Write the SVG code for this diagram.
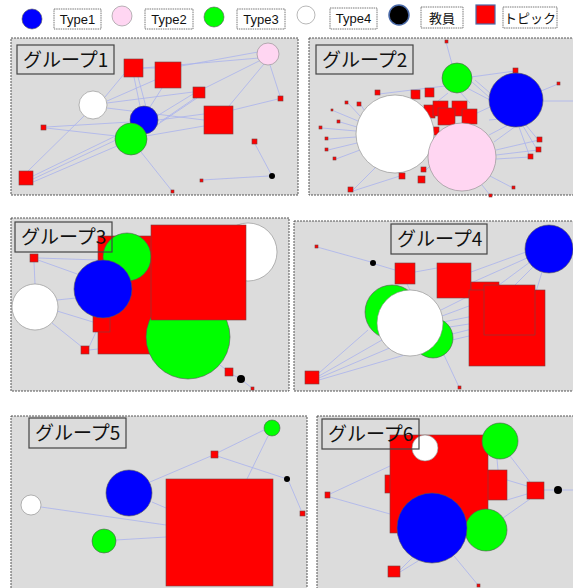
<svg xmlns="http://www.w3.org/2000/svg" width="573" height="588" viewBox="0 0 573 588">
<style>
.bg{fill:#ffffff}
.panel{fill:#dcdcdc;stroke:#555;stroke-width:1;stroke-dasharray:2,1}
.lab{fill:none;stroke:#444;stroke-width:1.2}
.labt{font-family:"Noto Sans CJK JP","Noto Sans",sans-serif;font-size:19px;fill:#111}
.lbox{fill:#fff;stroke:#555;stroke-width:0.8;stroke-dasharray:1.5,0.8}
.lt{font-family:"Liberation Sans","DejaVu Sans",sans-serif;font-size:13px;fill:#111}
.ljt{font-family:"Noto Sans CJK JP",sans-serif;font-size:13px;fill:#111}
.lc{stroke:#4a6aa8;stroke-width:1.5}
.e{stroke:#aab2ee;stroke-width:0.8;fill:none}
.t1{fill:#0000ff;stroke:#555;stroke-width:0.6}
.t2{fill:#ffd6f2;stroke:#888;stroke-width:0.6}
.t3{fill:#00ff00;stroke:#555;stroke-width:0.6}
.t4{fill:#ffffff;stroke:#888;stroke-width:0.6}
.tc{fill:#000000}
.tp{fill:#ff0000;stroke:#7a4040;stroke-width:0.6}
</style>
<rect class="bg" x="0" y="0" width="573" height="588"/>

<g id="legend">
  <g id="leg-type1"><circle class="t1 lc" cx="32" cy="19" r="10"/><rect class="lbox" x="54" y="9" width="47" height="20"/><text class="lt" x="77.5" y="24" text-anchor="middle">Type1</text></g>
  <g id="leg-type2"><circle class="t2 lc" cx="122" cy="16" r="10"/><rect class="lbox" x="145" y="9" width="48" height="20"/><text class="lt" x="169" y="24" text-anchor="middle">Type2</text></g>
  <g id="leg-type3"><circle class="t3 lc" cx="214" cy="17" r="10"/><rect class="lbox" x="237" y="9" width="48" height="20"/><text class="lt" x="261" y="24" text-anchor="middle">Type3</text></g>
  <g id="leg-type4"><circle class="t4 lc" cx="306" cy="15" r="9"/><rect class="lbox" x="330" y="8" width="47" height="21"/><text class="lt" x="353.5" y="23" text-anchor="middle">Type4</text></g>
  <g id="leg-teacher"><circle class="tc lc" cx="399" cy="15" r="10"/><rect class="lbox" x="421" y="7" width="42" height="21"/><text class="ljt" x="442" y="23" text-anchor="middle">教員</text></g>
  <g id="leg-topic"><rect class="tp" x="476" y="5" width="19" height="19" style="stroke:#4a6aa8;stroke-width:1.2"/><rect class="lbox" x="503" y="7" width="54" height="21"/><text class="ljt" x="530" y="23" text-anchor="middle">トピック</text></g>
</g>

<!-- ============ Group 1 ============ -->
<g id="group1">
  <rect class="panel" x="11" y="38" width="287" height="157"/>
  <g id="g1-connectors">
    <line class="e" x1="181" y1="66" x2="258" y2="52"/>
    <line class="e" x1="143" y1="68" x2="259" y2="58"/>
    <line class="e" x1="205" y1="88" x2="261" y2="60"/>
    <line class="e" x1="229" y1="106" x2="264" y2="64"/>
    <line class="e" x1="270" y1="65" x2="280" y2="96"/>
    <line class="e" x1="143" y1="68" x2="155" y2="68"/>
    <line class="e" x1="105" y1="97" x2="124" y2="74"/>
    <line class="e" x1="107" y1="101" x2="155" y2="80"/>
    <line class="e" x1="107" y1="103" x2="193" y2="92"/>
    <line class="e" x1="107" y1="108" x2="204" y2="120"/>
    <line class="e" x1="134" y1="77" x2="140" y2="106"/>
    <line class="e" x1="138" y1="77" x2="146" y2="107"/>
    <line class="e" x1="162" y1="88" x2="150" y2="107"/>
    <line class="e" x1="193" y1="94" x2="157" y2="116"/>
    <line class="e" x1="195" y1="98" x2="160" y2="122"/>
    <line class="e" x1="197" y1="98" x2="145" y2="133"/>
    <line class="e" x1="204" y1="114" x2="158" y2="120"/>
    <line class="e" x1="204" y1="126" x2="146" y2="136"/>
    <line class="e" x1="233" y1="110" x2="278" y2="99"/>
    <line class="e" x1="46" y1="127" x2="130" y2="122"/>
    <line class="e" x1="46" y1="128" x2="116" y2="136"/>
    <line class="e" x1="28" y1="171" x2="84" y2="116"/>
    <line class="e" x1="33" y1="176" x2="132" y2="128"/>
    <line class="e" x1="33" y1="179" x2="116" y2="140"/>
    <line class="e" x1="33" y1="182" x2="117" y2="146"/>
    <line class="e" x1="141" y1="152" x2="172" y2="191"/>
    <line class="e" x1="255" y1="144" x2="271" y2="174"/>
    <line class="e" x1="202" y1="180" x2="269" y2="176"/>
  </g>
  <g id="g1-n1"><circle class="t2" cx="268" cy="54" r="11"/></g>
  <g id="g1-n2"><rect class="tp" x="124" y="59" width="19" height="18"/></g>
  <g id="g1-n3"><rect class="tp" x="155" y="62" width="26" height="26"/></g>
  <g id="g1-n4"><rect class="tp" x="193" y="87" width="12" height="11"/></g>
  <g id="g1-n5"><rect class="tp" x="278" y="96" width="5" height="5"/></g>
  <g id="g1-n6"><circle class="t4" cx="93" cy="105" r="14"/></g>
  <g id="g1-n7"><circle class="t1" cx="144" cy="120" r="14"/></g>
  <g id="g1-n8"><rect class="tp" x="204" y="106" width="29" height="28"/></g>
  <g id="g1-n9"><rect class="tp" x="41" y="125" width="5" height="5"/></g>
  <g id="g1-n10"><circle class="t3" cx="131" cy="139" r="16"/></g>
  <g id="g1-n11"><rect class="tp" x="252" y="139" width="5" height="5"/></g>
  <g id="g1-n12"><circle class="tc" cx="272" cy="176" r="3"/></g>
  <g id="g1-n13"><rect class="tp" x="200" y="179" width="3" height="3"/></g>
  <g id="g1-n14"><rect class="tp" x="171" y="190" width="3" height="3"/></g>
  <g id="g1-n15"><rect class="tp" x="19" y="171" width="14" height="14"/></g>
  <g id="g1-label"><rect class="lab" x="17" y="45" width="97" height="29"/><text class="labt" x="23" y="67">グループ1</text></g>
</g>

<!-- ============ Group 2 ============ -->
<g id="group2">
  <rect class="panel" x="309" y="38" width="270" height="157"/>
  <g id="g2-connectors">
    <line class="e" x1="446" y1="42" x2="452" y2="64"/>
    <line class="e" x1="515" y1="71" x2="471" y2="77"/>
    <line class="e" x1="558" y1="84" x2="541" y2="91"/>
    <line class="e" x1="543" y1="101" x2="573" y2="101"/>
    <line class="e" x1="379" y1="94" x2="445" y2="86"/>
    <line class="e" x1="361" y1="105" x2="364" y2="110"/>
    <line class="e" x1="348" y1="103" x2="360" y2="116"/>
    <line class="e" x1="334" y1="111" x2="358" y2="121"/>
    <line class="e" x1="340" y1="122" x2="357" y2="127"/>
    <line class="e" x1="322" y1="128" x2="356" y2="131"/>
    <line class="e" x1="328" y1="139" x2="356" y2="137"/>
    <line class="e" x1="328" y1="150" x2="357" y2="143"/>
    <line class="e" x1="336" y1="159" x2="360" y2="150"/>
    <line class="e" x1="353" y1="191" x2="403" y2="175"/>
    <line class="e" x1="353" y1="190" x2="378" y2="165"/>
    <line class="e" x1="467" y1="88" x2="490" y2="100"/>
    <line class="e" x1="472" y1="82" x2="489" y2="97"/>
    <line class="e" x1="475" y1="80" x2="490" y2="93"/>
    <line class="e" x1="460" y1="92" x2="470" y2="103"/>
    <line class="e" x1="448" y1="93" x2="438" y2="101"/>
    <line class="e" x1="477" y1="113" x2="490" y2="107"/>
    <line class="e" x1="489" y1="120" x2="500" y2="119"/>
    <line class="e" x1="489" y1="135" x2="510" y2="124"/>
    <line class="e" x1="494" y1="142" x2="516" y2="126"/>
    <line class="e" x1="539" y1="141" x2="526" y2="125"/>
    <line class="e" x1="538" y1="151" x2="523" y2="126"/>
    <line class="e" x1="530" y1="157" x2="519" y2="127"/>
    <line class="e" x1="539" y1="140" x2="496" y2="150"/>
    <line class="e" x1="538" y1="150" x2="496" y2="155"/>
    <line class="e" x1="530" y1="157" x2="496" y2="159"/>
    <line class="e" x1="513" y1="188" x2="490" y2="176"/>
    <line class="e" x1="490" y1="195" x2="482" y2="185"/>
    <line class="e" x1="424" y1="172" x2="430" y2="166"/>
  </g>
  <g id="g2-n1"><rect class="tp" x="445" y="40" width="3" height="3"/></g>
  <g id="g2-n2"><rect class="tp" x="513" y="68" width="5" height="5"/></g>
  <g id="g2-n3"><rect class="tp" x="557" y="82" width="3" height="3"/></g>
  <g id="g2-n4"><rect class="tp" x="375" y="90" width="5" height="5"/></g>
  <g id="g2-n5"><rect class="tp" x="357" y="102" width="4" height="4"/></g>
  <g id="g2-n6"><rect class="tp" x="345" y="101" width="3" height="3"/></g>
  <g id="g2-n7"><rect class="tp" x="331" y="109" width="2" height="2"/></g>
  <g id="g2-n8"><rect class="tp" x="337" y="120" width="3" height="3"/></g>
  <g id="g2-n9"><rect class="tp" x="319" y="126" width="3" height="3"/></g>
  <g id="g2-n10"><rect class="tp" x="325" y="137" width="3" height="3"/></g>
  <g id="g2-n11"><rect class="tp" x="325" y="148" width="3" height="3"/></g>
  <g id="g2-n12"><rect class="tp" x="333" y="157" width="3" height="3"/></g>
  <g id="g2-n13"><rect class="tp" x="411" y="90" width="9" height="9"/></g>
  <g id="g2-n14"><rect class="tp" x="425" y="88" width="9" height="9"/></g>
  <g id="g2-n15"><rect class="tp" x="424" y="105" width="11" height="13"/></g>
  <g id="g2-n16"><rect class="tp" x="433" y="101" width="15" height="15"/></g>
  <g id="g2-n17"><rect class="tp" x="452" y="101" width="15" height="15"/></g>
  <g id="g2-n18"><rect class="tp" x="438" y="108" width="17" height="17"/></g>
  <g id="g2-n19"><rect class="tp" x="462" y="109" width="15" height="15"/></g>
  <g id="g2-n20"><rect class="tp" x="433" y="127" width="6" height="8"/></g>
  <g id="g2-n21"><circle class="t3" cx="457" cy="78" r="15"/></g>
  <g id="g2-n22"><circle class="t1" cx="516" cy="100" r="27"/></g>
  <g id="g2-n23"><circle class="t4" cx="395" cy="134" r="39"/></g>
  <g id="g2-n24"><circle class="t2" cx="462" cy="157" r="34"/></g>
  <g id="g2-n25"><rect class="tp" x="537" y="137" width="5" height="5"/></g>
  <g id="g2-n26"><rect class="tp" x="536" y="147" width="5" height="5"/></g>
  <g id="g2-n27"><rect class="tp" x="528" y="154" width="5" height="5"/></g>
  <g id="g2-n28"><rect class="tp" x="512" y="186" width="3" height="3"/></g>
  <g id="g2-n29"><rect class="tp" x="489" y="194" width="3" height="3"/></g>
  <g id="g2-n30"><rect class="tp" x="399" y="173" width="6" height="6"/></g>
  <g id="g2-n31"><rect class="tp" x="418" y="176" width="7" height="7"/></g>
  <g id="g2-n32"><rect class="tp" x="421" y="167" width="5" height="5"/></g>
  <g id="g2-n33"><rect class="tp" x="348" y="187" width="5" height="5"/></g>
  <g id="g2-label"><rect class="lab" x="316" y="45" width="97" height="29"/><text class="labt" x="322" y="67">グループ2</text></g>
</g>

<!-- ============ Group 3 ============ -->
<g id="group3">
  <rect class="panel" x="11" y="218" width="278" height="173"/>
  <g id="g3-connectors">
    <line class="e" x1="34" y1="262" x2="35" y2="284"/>
    <line class="e" x1="38" y1="260" x2="80" y2="275"/>
    <line class="e" x1="38" y1="258" x2="98" y2="260"/>
    <line class="e" x1="57" y1="300" x2="76" y2="298"/>
    <line class="e" x1="57" y1="311" x2="93" y2="322"/>
    <line class="e" x1="52" y1="323" x2="82" y2="347"/>
    <line class="e" x1="89" y1="347" x2="96" y2="332"/>
    <line class="e" x1="89" y1="350" x2="98" y2="349"/>
    <line class="e" x1="229" y1="372" x2="220" y2="365"/>
    <line class="e" x1="233" y1="375" x2="241" y2="379"/>
    <line class="e" x1="243" y1="381" x2="252" y2="388"/>
  </g>
  <g id="g3-n1"><circle class="t4" cx="248" cy="252" r="29"/></g>
  <g id="g3-n2"><rect class="tp" x="98" y="236" width="54" height="118"/></g>
  <g id="g3-n3"><circle class="t3" cx="127" cy="257" r="24"/></g>
  <g id="g3-n4"><circle class="t3" cx="188" cy="337" r="42"/></g>
  <g id="g3-n5"><rect class="tp" x="151" y="225" width="95" height="95"/></g>
  <g id="g3-n6"><rect class="tp" x="93" y="316" width="17" height="16"/></g>
  <g id="g3-n7"><circle class="t1" cx="103" cy="289" r="29"/></g>
  <g id="g3-n8"><circle class="t4" cx="35" cy="307" r="23"/></g>
  <g id="g3-n9"><rect class="tp" x="30" y="254" width="8" height="8"/></g>
  <g id="g3-n10"><rect class="tp" x="81" y="346" width="8" height="8"/></g>
  <g id="g3-n11"><rect class="tp" x="225" y="368" width="8" height="8"/></g>
  <g id="g3-n12"><circle class="tc" cx="241" cy="379" r="4"/></g>
  <g id="g3-n13"><rect class="tp" x="251" y="387" width="3" height="3"/></g>
  <g id="g3-label"><rect class="lab" x="15" y="222" width="97" height="30"/><text class="labt" x="21" y="244">グループ3</text></g>
</g>

<!-- ============ Group 4 ============ -->
<g id="group4">
  <rect class="panel" x="294" y="221" width="285" height="170"/>
  <g id="g4-connectors">
    <line class="e" x1="317" y1="247" x2="371" y2="262"/>
    <line class="e" x1="375" y1="264" x2="395" y2="270"/>
    <line class="e" x1="415" y1="272" x2="437" y2="268"/>
    <line class="e" x1="407" y1="284" x2="410" y2="290"/>
    <line class="e" x1="471" y1="272" x2="526" y2="252"/>
    <line class="e" x1="471" y1="283" x2="527" y2="258"/>
    <line class="e" x1="499" y1="285" x2="530" y2="262"/>
    <line class="e" x1="510" y1="290" x2="534" y2="266"/>
    <line class="e" x1="535" y1="295" x2="542" y2="272"/>
    <line class="e" x1="441" y1="310" x2="469" y2="296"/>
    <line class="e" x1="442" y1="316" x2="469" y2="306"/>
    <line class="e" x1="443" y1="322" x2="484" y2="314"/>
    <line class="e" x1="443" y1="328" x2="469" y2="324"/>
    <line class="e" x1="452" y1="334" x2="484" y2="326"/>
    <line class="e" x1="452" y1="340" x2="469" y2="336"/>
    <line class="e" x1="319" y1="373" x2="368" y2="330"/>
    <line class="e" x1="319" y1="376" x2="382" y2="340"/>
    <line class="e" x1="319" y1="378" x2="392" y2="347"/>
    <line class="e" x1="319" y1="380" x2="415" y2="352"/>
    <line class="e" x1="444" y1="355" x2="459" y2="387"/>
  </g>
  <g id="g4-n1"><rect class="tp" x="315" y="245" width="3" height="3"/></g>
  <g id="g4-n2"><circle class="tc" cx="373" cy="263" r="3"/></g>
  <g id="g4-n3"><rect class="tp" x="395" y="263" width="20" height="21"/></g>
  <g id="g4-n4"><rect class="tp" x="437" y="263" width="34" height="35"/></g>
  <g id="g4-n5"><circle class="t1" cx="549" cy="249" r="24"/></g>
  <g id="g4-n6"><rect class="tp" x="471" y="282" width="28" height="28"/></g>
  <g id="g4-n7"><rect class="tp" x="469" y="290" width="76" height="76"/></g>
  <g id="g4-n8"><rect class="tp" x="484" y="285" width="51" height="50"/></g>
  <g id="g4-n9"><circle class="t3" cx="392" cy="312" r="27"/></g>
  <g id="g4-n10"><circle class="t3" cx="433" cy="338" r="20"/></g>
  <g id="g4-n11"><circle class="t4" cx="410" cy="323" r="33"/></g>
  <g id="g4-n12"><rect class="tp" x="305" y="371" width="14" height="13"/></g>
  <g id="g4-n13"><rect class="tp" x="458" y="386" width="3" height="3"/></g>
  <g id="g4-label"><rect class="lab" x="391" y="224" width="96" height="30"/><text class="labt" x="397" y="246">グループ4</text></g>
</g>

<!-- ============ Group 5 ============ -->
<g id="group5">
  <rect class="panel" x="11" y="416" width="296" height="180"/>
  <g id="g5-connectors">
    <line class="e" x1="264" y1="430" x2="217" y2="453"/>
    <line class="e" x1="268" y1="436" x2="247" y2="479"/>
    <line class="e" x1="211" y1="456" x2="150" y2="482"/>
    <line class="e" x1="217" y1="456" x2="284" y2="478"/>
    <line class="e" x1="289" y1="482" x2="301" y2="510"/>
    <line class="e" x1="41" y1="507" x2="166" y2="525"/>
    <line class="e" x1="152" y1="502" x2="166" y2="508"/>
    <line class="e" x1="116" y1="540" x2="166" y2="537"/>
  </g>
  <g id="g5-n1"><circle class="t3" cx="272" cy="428" r="8"/></g>
  <g id="g5-n2"><rect class="tp" x="211" y="451" width="7" height="7"/></g>
  <g id="g5-n3"><circle class="tc" cx="287" cy="479" r="3"/></g>
  <g id="g5-n4"><circle class="t1" cx="129" cy="493" r="23"/></g>
  <g id="g5-n5"><rect class="tp" x="166" y="479" width="107" height="107"/></g>
  <g id="g5-n6"><circle class="t4" cx="31" cy="505" r="10"/></g>
  <g id="g5-n7"><rect class="tp" x="300" y="511" width="5" height="5"/></g>
  <g id="g5-n8"><circle class="t3" cx="104" cy="541" r="12"/></g>
  <g id="g5-label"><rect class="lab" x="29" y="418" width="97" height="30"/><text class="labt" x="35" y="440">グループ5</text></g>
</g>

<!-- ============ Group 6 ============ -->
<g id="group6">
  <rect class="panel" x="317" y="416" width="262" height="180"/>
  <g id="g6-connectors">
    <line class="e" x1="330" y1="494" x2="390" y2="466"/>
    <line class="e" x1="330" y1="497" x2="390" y2="514"/>
    <line class="e" x1="497" y1="459" x2="498" y2="470"/>
    <line class="e" x1="510" y1="456" x2="530" y2="482"/>
    <line class="e" x1="507" y1="480" x2="527" y2="486"/>
    <line class="e" x1="507" y1="500" x2="527" y2="494"/>
    <line class="e" x1="503" y1="518" x2="530" y2="499"/>
    <line class="e" x1="543" y1="490" x2="554" y2="490"/>
    <line class="e" x1="562" y1="490" x2="573" y2="490"/>
    <line class="e" x1="400" y1="570" x2="412" y2="558"/>
    <line class="e" x1="400" y1="572" x2="418" y2="561"/>
    <line class="e" x1="454" y1="556" x2="478" y2="585"/>
  </g>
  <g id="g6-n1"><rect class="tp" x="385" y="475" width="18" height="18"/></g>
  <g id="g6-n2"><rect class="tp" x="477" y="470" width="30" height="30"/></g>
  <g id="g6-n3"><rect class="tp" x="390" y="435" width="98" height="98"/></g>
  <g id="g6-n4"><circle class="t4" cx="425" cy="448" r="13"/></g>
  <g id="g6-n5"><circle class="t3" cx="500" cy="441" r="18"/></g>
  <g id="g6-n6"><rect class="tp" x="527" y="482" width="17" height="17"/></g>
  <g id="g6-n7"><circle class="tc" cx="558" cy="490" r="4"/></g>
  <g id="g6-n8"><rect class="tp" x="325" y="492" width="5" height="6"/></g>
  <g id="g6-n9"><circle class="t3" cx="486" cy="530" r="21"/></g>
  <g id="g6-n10"><circle class="t1" cx="432" cy="528" r="35"/></g>
  <g id="g6-n11"><rect class="tp" x="388" y="566" width="12" height="11"/></g>
  <g id="g6-n12"><rect class="tp" x="477" y="584" width="3" height="3"/></g>
  <g id="g6-label"><rect class="lab" x="322" y="419" width="97" height="30"/><text class="labt" x="328" y="441">グループ6</text></g>
</g>
</svg>
